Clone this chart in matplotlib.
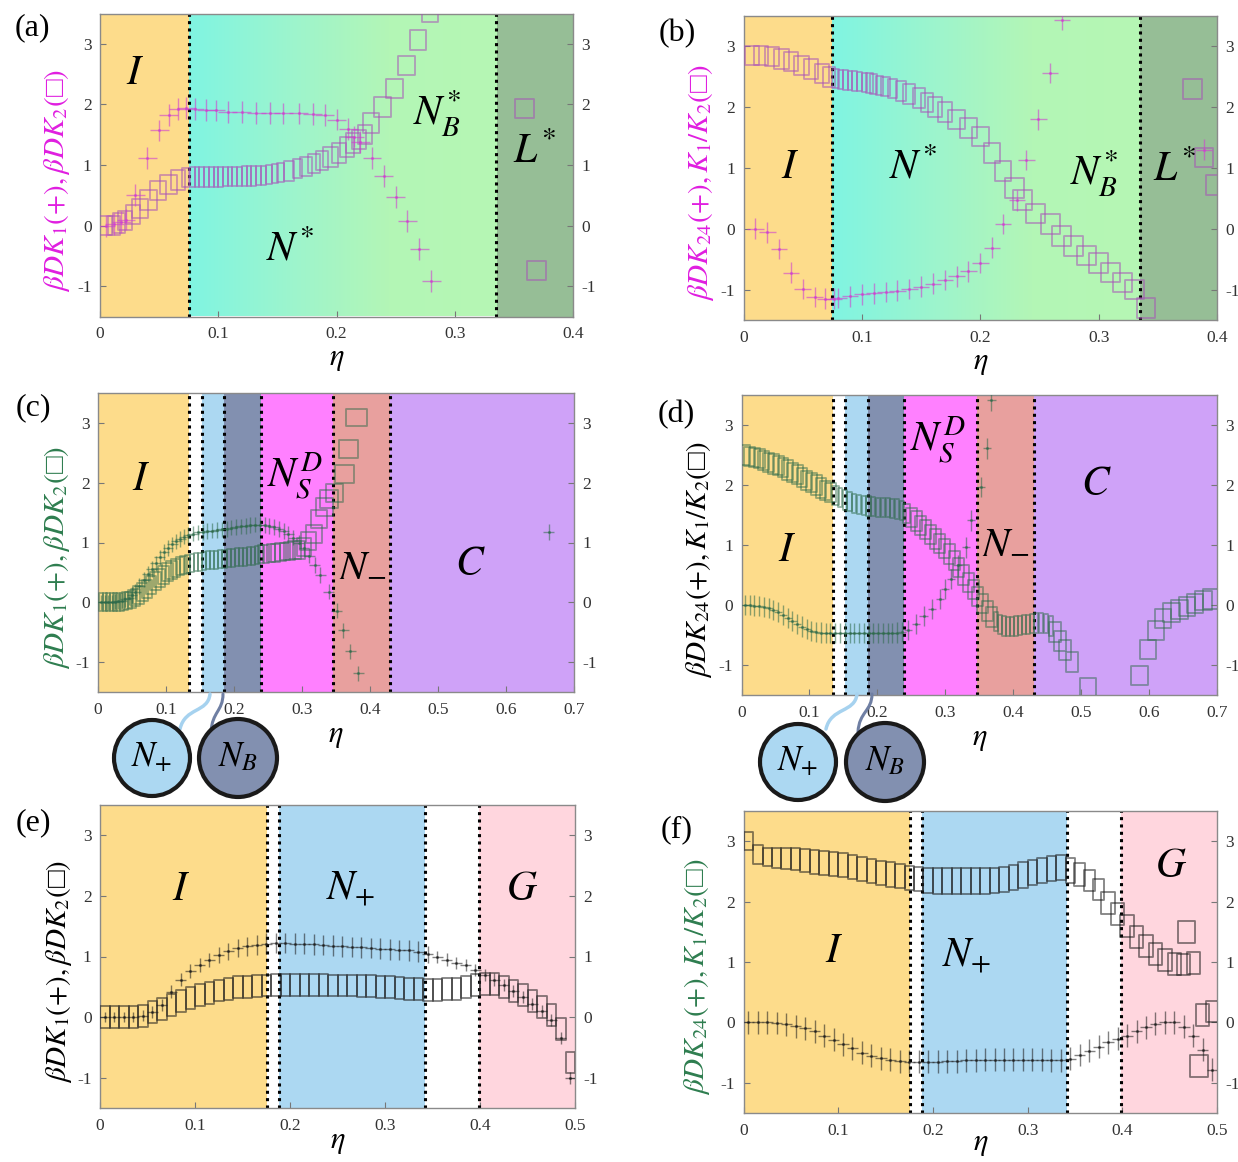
import numpy as np
import matplotlib
matplotlib.use("Agg")
import matplotlib.pyplot as plt
from matplotlib.patches import Rectangle, Circle, PathPatch
from matplotlib.collections import PatchCollection
from matplotlib.colors import LinearSegmentedColormap
from matplotlib.path import Path

plt.rcParams['font.family'] = ['Liberation Serif', 'DejaVu Serif']
plt.rcParams['mathtext.fontset'] = 'stix'
plt.rcParams['axes.unicode_minus'] = False

# ---------------------------------------------------------------- data
# (a) chiral system: beta*D*K1 (+) and beta*D*K2 (squares)
a_eta_k1 = [0.005, 0.012, 0.018, 0.022, 0.03, 0.04, 0.05, 0.058, 0.066, 0.073,
            0.08, 0.09, 0.098, 0.108, 0.12, 0.132, 0.144, 0.155, 0.168, 0.18,
            0.19, 0.2, 0.21, 0.215, 0.22, 0.23, 0.24, 0.25, 0.26, 0.27, 0.28]
a_k1 = [0.0, 0.03, 0.06, 0.1, 0.5, 1.12, 1.57, 1.82, 1.92, 1.94,
        1.93, 1.91, 1.9, 1.88, 1.87, 1.86, 1.86, 1.85, 1.85, 1.84,
        1.82, 1.75, 1.59, 1.47, 1.38, 1.12, 0.82, 0.47, 0.08, -0.38, -0.92]
a_k1_err = 0.18
a_eta_k2 = [0.004, 0.012, 0.016, 0.021, 0.028, 0.034, 0.041, 0.049, 0.058, 0.066,
            0.072, 0.078, 0.082, 0.086, 0.09, 0.094, 0.098, 0.102, 0.106, 0.11,
            0.114, 0.118, 0.122, 0.126, 0.13, 0.134, 0.138, 0.143, 0.148, 0.153,
            0.16, 0.167, 0.174, 0.181, 0.188, 0.195, 0.202, 0.209, 0.214, 0.219,
            0.224, 0.229, 0.239, 0.249, 0.259, 0.269, 0.279, 0.359, 0.369]
a_k2 = [0.0, 0.0, 0.04, 0.08, 0.18, 0.28, 0.42, 0.58, 0.68, 0.75,
        0.79, 0.8, 0.8, 0.8, 0.8, 0.8, 0.8, 0.8, 0.81, 0.81,
        0.81, 0.81, 0.82, 0.82, 0.82, 0.83, 0.83, 0.84, 0.86, 0.88,
        0.9, 0.94, 0.98, 1.02, 1.07, 1.13, 1.2, 1.3, 1.36, 1.42,
        1.5, 1.69, 1.96, 2.26, 2.64, 3.06, 3.52, 1.93, -0.74]
a_k2_eta_err = [0.006, 0.005, 0.005, 0.006, 0.006, 0.007, 0.007, 0.007, 0.007, 0.006,
                0.003, 0.002, 0.002, 0.002, 0.002, 0.002, 0.002, 0.002, 0.002, 0.002,
                0.002, 0.002, 0.002, 0.002, 0.002, 0.002, 0.002, 0.0025, 0.0025, 0.003,
                0.004, 0.004, 0.005, 0.005, 0.005, 0.006, 0.006, 0.006, 0.006, 0.006,
                0.006, 0.007, 0.007, 0.007, 0.007, 0.007, 0.007, 0.008, 0.008]
a_k2_err = 0.16

# (b) chiral system: beta*D*K24 (+) and K1/K2 (squares)
b_eta_k24 = [0.01, 0.02, 0.03, 0.04, 0.05, 0.06, 0.069, 0.076, 0.08, 0.09,
             0.1, 0.11, 0.12, 0.13, 0.14, 0.15, 0.16, 0.17, 0.18, 0.19,
             0.2, 0.21, 0.219, 0.231, 0.239, 0.249, 0.259, 0.269, 0.389]
b_k24 = [0.0, -0.06, -0.33, -0.72, -0.99, -1.12, -1.15, -1.15, -1.14, -1.11,
         -1.08, -1.06, -1.04, -1.02, -0.99, -0.95, -0.9, -0.84, -0.78, -0.7,
         -0.56, -0.31, 0.08, 0.47, 1.13, 1.8, 2.56, 3.44, 1.3]
b_k24_err = 0.17
b_eta_ratio = [0.007, 0.015, 0.024, 0.032, 0.04, 0.049, 0.057, 0.066, 0.072, 0.078,
               0.082, 0.086, 0.09, 0.094, 0.098, 0.102, 0.106, 0.11, 0.115, 0.12,
               0.126, 0.133, 0.14, 0.148, 0.155, 0.162, 0.17, 0.18, 0.19, 0.2,
               0.21, 0.219, 0.229, 0.236, 0.247, 0.259, 0.269, 0.279, 0.29, 0.3,
               0.31, 0.32, 0.33, 0.34, 0.379, 0.389, 0.399]
b_ratio = [2.85, 2.85, 2.83, 2.79, 2.75, 2.69, 2.63, 2.55, 2.5, 2.47,
           2.46, 2.45, 2.44, 2.43, 2.42, 2.41, 2.4, 2.38, 2.36, 2.34,
           2.31, 2.27, 2.22, 2.15, 2.08, 2.0, 1.92, 1.8, 1.66, 1.52,
           1.25, 0.95, 0.67, 0.47, 0.25, 0.08, -0.12, -0.28, -0.44, -0.56,
           -0.72, -0.88, -1.0, -1.3, 2.3, 1.17, 0.72]
b_ratio_eta_err = [0.006, 0.006, 0.006, 0.006, 0.006, 0.006, 0.006, 0.006, 0.005, 0.003,
                   0.002, 0.002, 0.002, 0.002, 0.002, 0.002, 0.003, 0.003, 0.003, 0.004,
                   0.004, 0.004, 0.005, 0.005, 0.005, 0.006, 0.006, 0.007, 0.007, 0.007,
                   0.007, 0.007, 0.008, 0.008, 0.008, 0.008, 0.008, 0.008, 0.008, 0.008,
                   0.008, 0.008, 0.008, 0.008, 0.008, 0.008, 0.008]
b_ratio_err = 0.16

# (c) beta*D*K1 (+) and beta*D*K2 (squares)
c_eta_k1 = [0.005, 0.01, 0.015, 0.02, 0.025, 0.03, 0.035, 0.04, 0.045, 0.05,
            0.055, 0.061, 0.067, 0.073, 0.079, 0.085, 0.091, 0.097, 0.103, 0.109,
            0.115, 0.121, 0.127, 0.133, 0.14, 0.147, 0.154, 0.161, 0.168, 0.175,
            0.182, 0.189, 0.196, 0.203, 0.21, 0.217, 0.224, 0.231, 0.238, 0.245,
            0.252, 0.259, 0.266, 0.273, 0.28, 0.287, 0.295, 0.303, 0.311, 0.319,
            0.327, 0.339, 0.351, 0.361, 0.371, 0.383, 0.663]
c_k1 = [0.0, 0.0, 0.0, 0.0, 0.01, 0.02, 0.03, 0.05, 0.08, 0.12,
        0.18, 0.27, 0.38, 0.47, 0.56, 0.65, 0.75, 0.84, 0.91, 0.97,
        1.02, 1.06, 1.1, 1.13, 1.15, 1.17, 1.18, 1.19, 1.2, 1.21,
        1.22, 1.23, 1.25, 1.26, 1.27, 1.28, 1.29, 1.3, 1.3, 1.29,
        1.28, 1.26, 1.23, 1.19, 1.14, 1.08, 1.0, 0.9, 0.78, 0.62,
        0.46, 0.18, -0.14, -0.47, -0.82, -1.19, 1.18]
c_k1_err = 0.13
c_eta_k2 = [0.005, 0.01, 0.015, 0.02, 0.025, 0.03, 0.035, 0.04, 0.045, 0.05,
            0.055, 0.06, 0.066, 0.072, 0.078, 0.084, 0.09, 0.096, 0.102, 0.108,
            0.114, 0.12, 0.126, 0.132, 0.138, 0.144, 0.15, 0.156, 0.162, 0.168,
            0.174, 0.18, 0.186, 0.192, 0.198, 0.204, 0.21, 0.216, 0.222, 0.228,
            0.234, 0.24, 0.247, 0.254, 0.261, 0.268, 0.275, 0.282, 0.289, 0.296,
            0.303, 0.31, 0.318, 0.325, 0.333, 0.34, 0.348, 0.363, 0.369, 0.38]
c_k2 = [0.0, 0.0, 0.0, 0.0, 0.0, 0.0, 0.01, 0.02, 0.03, 0.05,
        0.08, 0.12, 0.17, 0.23, 0.29, 0.35, 0.41, 0.46, 0.5, 0.54,
        0.57, 0.6, 0.62, 0.64, 0.66, 0.67, 0.68, 0.69, 0.7, 0.71,
        0.71, 0.72, 0.73, 0.74, 0.74, 0.75, 0.76, 0.76, 0.77, 0.78,
        0.79, 0.8, 0.81, 0.82, 0.83, 0.84, 0.85, 0.86, 0.87, 0.88,
        0.92, 1.02, 1.15, 1.39, 1.6, 1.72, 1.83, 2.14, 2.57, 3.09]
c_k2_eta_err = [0.003, 0.003, 0.003, 0.003, 0.003, 0.003, 0.003, 0.004, 0.005, 0.006,
                0.007, 0.008, 0.008, 0.008, 0.008, 0.008, 0.008, 0.008, 0.008, 0.008,
                0.007, 0.006, 0.005, 0.004, 0.003, 0.003, 0.003, 0.003, 0.003, 0.003,
                0.003, 0.003, 0.003, 0.003, 0.003, 0.003, 0.003, 0.003, 0.003, 0.003,
                0.003, 0.004, 0.005, 0.006, 0.007, 0.008, 0.008, 0.008, 0.009, 0.009,
                0.01, 0.011, 0.012, 0.012, 0.012, 0.013, 0.013, 0.014, 0.014, 0.015]
c_k2_err = 0.15

# (d) beta*D*K24 (+) and K1/K2 (squares)
d_eta_k24 = [0.005, 0.012, 0.019, 0.026, 0.033, 0.04, 0.047, 0.054, 0.061, 0.068,
             0.075, 0.082, 0.089, 0.096, 0.103, 0.11, 0.117, 0.124, 0.131, 0.138,
             0.145, 0.152, 0.159, 0.166, 0.173, 0.18, 0.187, 0.194, 0.201, 0.208,
             0.215, 0.222, 0.229, 0.236, 0.245, 0.257, 0.268, 0.28, 0.292, 0.3,
             0.309, 0.318, 0.33, 0.338, 0.353, 0.362, 0.368]
d_k24 = [0.0, 0.0, -0.01, -0.02, -0.03, -0.05, -0.08, -0.12, -0.17, -0.22,
         -0.27, -0.32, -0.36, -0.4, -0.43, -0.45, -0.46, -0.47, -0.47, -0.47,
         -0.47, -0.47, -0.47, -0.47, -0.47, -0.47, -0.47, -0.47, -0.47, -0.47,
         -0.47, -0.47, -0.46, -0.45, -0.42, -0.32, -0.18, -0.07, 0.1, 0.27,
         0.43, 0.66, 0.96, 1.41, 1.97, 2.61, 3.41]
d_k24_err = 0.17
d_eta_ratio = [0.005, 0.012, 0.019, 0.026, 0.033, 0.04, 0.047, 0.054, 0.061, 0.068,
               0.075, 0.082, 0.089, 0.096, 0.103, 0.11, 0.117, 0.124, 0.131, 0.138,
               0.145, 0.152, 0.159, 0.166, 0.173, 0.18, 0.187, 0.194, 0.201, 0.208,
               0.215, 0.222, 0.229, 0.236, 0.243, 0.25, 0.257, 0.264, 0.271, 0.278,
               0.285, 0.292, 0.299, 0.306, 0.313, 0.32, 0.327, 0.334, 0.341, 0.348,
               0.355, 0.362, 0.368, 0.374, 0.38, 0.386, 0.392, 0.398, 0.404, 0.41,
               0.416, 0.422, 0.428, 0.434, 0.441, 0.448, 0.455, 0.462, 0.469, 0.476,
               0.487, 0.51, 0.586, 0.598, 0.61, 0.621, 0.633, 0.645, 0.656, 0.668,
               0.68, 0.691]
d_ratio = [2.5, 2.48, 2.46, 2.44, 2.41, 2.38, 2.35, 2.32, 2.29, 2.25,
           2.21, 2.17, 2.12, 2.08, 2.04, 2.0, 1.95, 1.91, 1.87, 1.83,
           1.79, 1.75, 1.72, 1.69, 1.67, 1.66, 1.65, 1.64, 1.63, 1.62,
           1.62, 1.61, 1.6, 1.58, 1.52, 1.46, 1.4, 1.33, 1.26, 1.18,
           1.1, 1.02, 0.94, 0.85, 0.74, 0.62, 0.5, 0.38, 0.26, 0.14,
           0.02, -0.1, -0.2, -0.28, -0.33, -0.35, -0.36, -0.36, -0.35, -0.34,
           -0.33, -0.32, -0.31, -0.3, -0.3, -0.31, -0.35, -0.45, -0.6, -0.75,
           -0.95, -1.38, -1.17, -0.74, -0.42, -0.23, -0.12, -0.07, -0.02, 0.03,
           0.07, 0.1]
d_ratio_eta_err = [0.008, 0.008, 0.008, 0.008, 0.008, 0.008, 0.008, 0.008, 0.008, 0.008,
                   0.008, 0.008, 0.008, 0.008, 0.008, 0.008, 0.008, 0.008, 0.008, 0.005,
                   0.003, 0.003, 0.003, 0.003, 0.003, 0.003, 0.003, 0.003, 0.003, 0.003,
                   0.003, 0.003, 0.003, 0.003, 0.005, 0.008, 0.008, 0.008, 0.008, 0.008,
                   0.008, 0.008, 0.008, 0.008, 0.008, 0.008, 0.008, 0.008, 0.008, 0.008,
                   0.008, 0.008, 0.008, 0.003, 0.003, 0.003, 0.003, 0.003, 0.003, 0.003,
                   0.003, 0.003, 0.003, 0.003, 0.003, 0.003, 0.003, 0.009, 0.009, 0.009,
                   0.009, 0.012, 0.012, 0.012, 0.012, 0.012, 0.012, 0.012, 0.012, 0.012,
                   0.012, 0.012]
d_ratio_err = 0.16

# (e) and (f) share the eta grid
ef_eta = [0.005, 0.015, 0.025, 0.035, 0.045, 0.055, 0.065, 0.075, 0.085, 0.095,
          0.105, 0.115, 0.125, 0.135, 0.145, 0.155, 0.165, 0.175, 0.185, 0.195,
          0.205, 0.215, 0.225, 0.235, 0.245, 0.255, 0.265, 0.275, 0.285, 0.295,
          0.305, 0.315, 0.325, 0.335, 0.345, 0.355, 0.365, 0.375, 0.385, 0.395,
          0.405, 0.415, 0.425, 0.435, 0.445, 0.455, 0.465, 0.475, 0.485, 0.495]
e_k1 = [0.0, 0.0, 0.0, 0.0, 0.02, 0.08, 0.2, 0.42, 0.62, 0.76,
        0.86, 0.94, 1.02, 1.09, 1.14, 1.17, 1.19, 1.21, 1.22, 1.22,
        1.21, 1.21, 1.2, 1.19, 1.18, 1.17, 1.16, 1.15, 1.14, 1.13,
        1.12, 1.11, 1.1, 1.08, 1.04, 0.99, 0.95, 0.9, 0.86, 0.78,
        0.7, 0.62, 0.53, 0.43, 0.33, 0.22, 0.1, -0.05, -0.35, -1.0]
e_k1_err = [0.08, 0.08, 0.08, 0.08, 0.09, 0.1, 0.1, 0.11, 0.11, 0.11,
            0.12, 0.12, 0.13, 0.14, 0.15, 0.16, 0.16, 0.17, 0.17, 0.17,
            0.17, 0.17, 0.17, 0.17, 0.17, 0.17, 0.17, 0.17, 0.17, 0.17,
            0.17, 0.17, 0.17, 0.17, 0.14, 0.1, 0.1, 0.1, 0.1, 0.1,
            0.1, 0.1, 0.1, 0.1, 0.1, 0.1, 0.1, 0.1, 0.1, 0.1]
e_k2 = [0.0, 0.0, 0.0, 0.0, 0.02, 0.08, 0.14, 0.2, 0.26, 0.32,
        0.36, 0.4, 0.44, 0.47, 0.49, 0.5, 0.51, 0.52, 0.53, 0.53,
        0.53, 0.53, 0.53, 0.53, 0.52, 0.52, 0.52, 0.51, 0.51, 0.5,
        0.49, 0.48, 0.47, 0.46, 0.45, 0.45, 0.46, 0.47, 0.49, 0.53,
        0.55, 0.54, 0.5, 0.43, 0.36, 0.27, 0.16, 0.04, -0.2, -0.75]
e_k2_err = 0.18

f_k24 = [0.0, 0.0, 0.0, -0.01, -0.03, -0.06, -0.1, -0.15, -0.22, -0.29,
         -0.36, -0.43, -0.5, -0.55, -0.59, -0.62, -0.64, -0.65, -0.65, -0.65,
         -0.65, -0.64, -0.64, -0.63, -0.63, -0.62, -0.62, -0.62, -0.62, -0.62,
         -0.62, -0.62, -0.63, -0.63, -0.6, -0.54, -0.47, -0.4, -0.33, -0.27,
         -0.22, -0.15, -0.08, -0.02, 0.0, 0.0, -0.07, -0.22, -0.45, -0.78]
f_k24_err = 0.19
f_eta_ratio = ef_eta + [0.468, 0.481]
f_ratio = [3.0, 2.78, 2.74, 2.72, 2.71, 2.7, 2.68, 2.66, 2.64, 2.62,
           2.6, 2.57, 2.54, 2.51, 2.48, 2.45, 2.42, 2.39, 2.37, 2.35,
           2.34, 2.34, 2.34, 2.34, 2.34, 2.34, 2.35, 2.37, 2.4, 2.44,
           2.48, 2.52, 2.55, 2.56, 2.52, 2.45, 2.35, 2.2, 1.98, 1.8,
           1.6, 1.42, 1.27, 1.13, 1.03, 0.97, 0.96, 0.98, 0.12, 0.18,
           1.5, -0.72]
f_ratio_err = [0.15, 0.15, 0.15, 0.16, 0.17, 0.18, 0.19, 0.2, 0.2, 0.2,
               0.2, 0.2, 0.2, 0.2, 0.2, 0.2, 0.2, 0.2, 0.2, 0.2,
               0.21, 0.21, 0.21, 0.21, 0.21, 0.21, 0.21, 0.21, 0.21, 0.21,
               0.21, 0.21, 0.21, 0.21, 0.21, 0.19, 0.18, 0.18, 0.18, 0.18,
               0.18, 0.18, 0.18, 0.18, 0.18, 0.18, 0.18, 0.18, 0.18, 0.18,
               0.18, 0.18]
f_ratio_eta_err = [0.005, 0.005, 0.005, 0.005, 0.005, 0.005, 0.005, 0.005, 0.005, 0.005,
                   0.005, 0.005, 0.005, 0.005, 0.005, 0.005, 0.005, 0.005, 0.005, 0.005,
                   0.005, 0.005, 0.005, 0.005, 0.005, 0.005, 0.005, 0.005, 0.005, 0.005,
                   0.005, 0.005, 0.005, 0.005, 0.005, 0.006, 0.006, 0.006, 0.007, 0.007,
                   0.007, 0.007, 0.007, 0.007, 0.007, 0.007, 0.007, 0.007, 0.007, 0.007,
                   0.009, 0.009]

# phase boundaries
ab_bounds = [0.075, 0.335]
cd_bounds = [0.134, 0.153, 0.186, 0.239, 0.346, 0.43]
ef_bounds = [0.176, 0.188, 0.342, 0.399]

# ---------------------------------------------------------------- styles
C_I = '#fddc8b'
C_LSTAR = '#96be96'
C_NPLUS = '#acd8f2'
C_NB = '#8290b0'
C_NSD = '#ff80ff'
C_NMINUS = '#e8a09e'
C_C = '#cfa2f8'
C_G = '#ffd6de'
MAG = '#e01ee0'
GRN = '#2e7d4f'
BOX = '\u25a1'

nstar_cmap = LinearSegmentedColormap.from_list(
    'nstar', [(0.0, '#80f5e2'), (0.35, '#9ef4cc'), (0.65, '#b3f6b6'), (1.0, '#b6f7b4')])

W, H = 1238, 1162
fig = plt.figure(figsize=(W / 100, H / 100), dpi=100)


def px_axes(l, t, r, b):
    return fig.add_axes([l / W, 1 - b / H, (r - l) / W, (b - t) / H])


def style(ax, xmax, xticks, ylabel, ycolor, lab_x, eta_y):
    ax.set_xlim(0, xmax)
    ax.set_ylim(-1.5, 3.5)
    ax.set_yticks([-1, 0, 1, 2, 3])
    ax.set_yticklabels(['-1', '0', '1', '2', '3'])
    ax.set_xticks(xticks)
    ax.set_xticklabels([f'{v:g}' for v in xticks])
    ax.tick_params(axis='both', direction='in', length=4, width=0.8,
                   color='#777777', labelsize=12.5, labelcolor='#333333')
    ax.tick_params(axis='y', right=True, labelright=True, pad=6)
    ax.tick_params(axis='x', pad=7)
    for sp in ax.spines.values():
        sp.set_color('#8a8a8a')
        sp.set_linewidth(1.0)
    ax.set_xlabel(r'$\eta$', fontsize=22, va='center')
    ax.xaxis.set_label_coords(0.5, eta_y)
    ax.set_ylabel(ylabel, fontsize=21, color=ycolor)
    ax.yaxis.set_label_coords(lab_x, 0.45)


def shade(ax, spans):
    for x0, x1, col in spans:
        ax.axvspan(x0, x1, color=col, lw=0, zorder=0)


def bounds(ax, xs):
    for x in xs:
        ax.axvline(x, color='black', ls=(0, (1, 1.4)), lw=2.2, zorder=2)


def crosses(ax, eta, val, eta_err, val_err, col, alpha=0.6):
    ax.errorbar(eta, val, xerr=eta_err, yerr=val_err, fmt='.', ms=2.5,
                color=col, ecolor=col, elinewidth=1.0, capsize=0,
                alpha=alpha, zorder=4)


def boxes(ax, eta, val, eta_err, val_err, col, alpha=0.55, lw=1.3):
    eta = np.asarray(eta, float)
    val = np.asarray(val, float)
    ex = np.broadcast_to(np.asarray(eta_err, float), eta.shape)
    ey = np.broadcast_to(np.asarray(val_err, float), eta.shape)
    rects = [Rectangle((x - dx, y - dy), 2 * dx, 2 * dy)
             for x, y, dx, dy in zip(eta, val, ex, ey)]
    pc = PatchCollection(rects, facecolor='none', edgecolor=col,
                         linewidth=lw, alpha=alpha, zorder=3)
    ax.add_collection(pc)


def label(ax, x, y, s, size=30):
    ax.text(x, y, s, fontsize=size, ha='center', va='center', zorder=6)


def chiral_background(ax):
    shade(ax, [(0, 0.075, C_I), (0.335, 0.4, C_LSTAR)])
    grad = np.linspace(0, 1, 256)[None, :]
    ax.imshow(grad, extent=[0.075, 0.335, -1.5, 3.5], aspect='auto',
              cmap=nstar_cmap, zorder=0, interpolation='bilinear')
    bounds(ax, ab_bounds)


def achiral_background(ax):
    shade(ax, [(0, 0.134, C_I), (0.153, 0.186, C_NPLUS), (0.186, 0.239, C_NB),
               (0.239, 0.346, C_NSD), (0.346, 0.43, C_NMINUS), (0.43, 0.7, C_C)])
    bounds(ax, cd_bounds)


def g_background(ax):
    shade(ax, [(0, 0.176, C_I), (0.188, 0.342, C_NPLUS), (0.399, 0.5, C_G)])
    bounds(ax, ef_bounds)


LAB_K1K2 = r'$\beta DK_1(+),\beta DK_2($' + BOX + r'$)$'
LAB_K24 = r'$\beta DK_{24}(+),K_1/K_2($' + BOX + r'$)$'

# ---------------------------------------------------------------- (a)
ax = px_axes(100, 13.5, 573, 316.5)
chiral_background(ax)
boxes(ax, a_eta_k2, a_k2, a_k2_eta_err, a_k2_err, '#a850b8')
crosses(ax, a_eta_k1, a_k1, 0.008, a_k1_err, '#d040d0')
label(ax, 0.03, 2.5, r'$I$')
label(ax, 0.161, -0.4, r'$N^{*}$')
label(ax, 0.285, 1.85, r'$N_B^{*}$')
label(ax, 0.367, 1.2, r'$L^{*}$')
style(ax, 0.4, [0, 0.1, 0.2, 0.3, 0.4], LAB_K1K2, MAG, -0.06, -0.14)

# ---------------------------------------------------------------- (b)
ax = px_axes(743.6, 16, 1217, 320)
chiral_background(ax)
boxes(ax, b_eta_ratio, b_ratio, b_ratio_eta_err, b_ratio_err, '#a850b8')
crosses(ax, b_eta_k24, b_k24, 0.007, b_k24_err, '#d040d0')
label(ax, 0.039, 1.0, r'$I$')
label(ax, 0.143, 1.0, r'$N^{*}$')
label(ax, 0.296, 0.9, r'$N_B^{*}$')
label(ax, 0.364, 0.95, r'$L^{*}$')
style(ax, 0.4, [0, 0.1, 0.2, 0.3, 0.4], LAB_K24, MAG, -0.058, -0.14)

# ---------------------------------------------------------------- (c)
ax = px_axes(98, 393, 574, 692)
achiral_background(ax)
boxes(ax, c_eta_k2, c_k2, c_k2_eta_err, c_k2_err, '#2d6a4a', alpha=0.5)
crosses(ax, c_eta_k1, c_k1, 0.008, c_k1_err, '#2d6a4a', alpha=0.55)
label(ax, 0.064, 2.05, r'$I$')
label(ax, 0.289, 2.1, r'$N_S^{D}$')
label(ax, 0.389, 0.62, r'$N_{-}$')
label(ax, 0.547, 0.62, r'$C$')
style(ax, 0.7, [0, 0.1, 0.2, 0.3, 0.4, 0.5, 0.6, 0.7], LAB_K1K2, GRN, -0.055, -0.145)

# ---------------------------------------------------------------- (d)
ax = px_axes(741.5, 395, 1217, 695)
achiral_background(ax)
boxes(ax, d_eta_ratio, d_ratio, d_ratio_eta_err, d_ratio_err, '#2d6a4a', alpha=0.5)
crosses(ax, d_eta_k24, d_k24, 0.006, d_k24_err, '#2d6a4a', alpha=0.55)
label(ax, 0.067, 0.9, r'$I$')
label(ax, 0.289, 2.75, r'$N_S^{D}$')
label(ax, 0.388, 1.05, r'$N_{-}$')
label(ax, 0.522, 2.0, r'$C$')
style(ax, 0.7, [0, 0.1, 0.2, 0.3, 0.4, 0.5, 0.6, 0.7], LAB_K24, 'black', -0.058, -0.145)

# ---------------------------------------------------------------- (e)
ax = px_axes(100, 805, 575, 1108)
g_background(ax)
boxes(ax, ef_eta, e_k2, 0.005, e_k2_err, '#1a1a1a', alpha=0.55)
crosses(ax, ef_eta, e_k1, 0.006, e_k1_err, '#1a1a1a', alpha=0.55)
label(ax, 0.085, 2.1, r'$I$')
label(ax, 0.264, 2.1, r'$N_{+}$')
label(ax, 0.444, 2.1, r'$G$')
style(ax, 0.5, [0, 0.1, 0.2, 0.3, 0.4, 0.5], LAB_K1K2, 'black', -0.055, -0.11)

# ---------------------------------------------------------------- (f)
ax = px_axes(743.6, 811, 1217, 1113)
g_background(ax)
boxes(ax, f_eta_ratio, f_ratio, f_ratio_eta_err, f_ratio_err, '#1a1a1a', alpha=0.55)
crosses(ax, ef_eta, f_k24, 0.006, f_k24_err, '#1a1a1a', alpha=0.55)
label(ax, 0.096, 1.17, r'$I$')
label(ax, 0.235, 1.1, r'$N_{+}$')
label(ax, 0.451, 2.57, r'$G$')
style(ax, 0.5, [0, 0.1, 0.2, 0.3, 0.4, 0.5], LAB_K24, GRN, -0.067, -0.1)

# ---------------------------------------------------------------- panel tags
for tag, x, y in [('(a)', 32, 28), ('(b)', 677, 34), ('(c)', 33, 408),
                  ('(d)', 676, 415), ('(e)', 33, 823), ('(f)', 677, 830)]:
    fig.text(x / W, 1 - y / H, tag, fontsize=23, ha='center', va='center')

# ---------------------------------------------------------------- N+ / N_B callouts
ov = fig.add_axes([0, 0, 1, 1])
ov.set_xlim(0, W)
ov.set_ylim(H, 0)
ov.axis('off')
ov.patch.set_alpha(0)
ov.set_zorder(10)


def connector(p0, c1, c2, p1, col, lw):
    path = Path([p0, c1, c2, p1], [Path.MOVETO, Path.CURVE4, Path.CURVE4, Path.CURVE4])
    ov.add_patch(PathPatch(path, fc='none', ec=col, lw=lw, capstyle='round'))


def bubble(cx, cy, r, col, text):
    ov.add_patch(Circle((cx, cy), r, fc=col, ec='#1a1a1a', lw=3))
    ov.text(cx, cy, text, fontsize=25, ha='center', va='center')


for (n1x, n2x, c1, c2, cy) in [(210, 223, 152, 238, 758), (857, 872, 798, 885, 762)]:
    connector((n1x, 694), (n1x - 2, 713), (c1 + 33, 707), (c1 + 28, 729), '#a6d2ef', 2.5)
    connector((n2x, 694), (n2x, 711), (c2 - 26, 712), (c2 - 27, 732), '#6f7fa3', 2.2)
    bubble(c1, cy, 38, C_NPLUS, r'$N_{+}$')
    bubble(c2, cy, 39, C_NB, r'$N_{B}$')

fig.savefig('out.png', dpi=100)
